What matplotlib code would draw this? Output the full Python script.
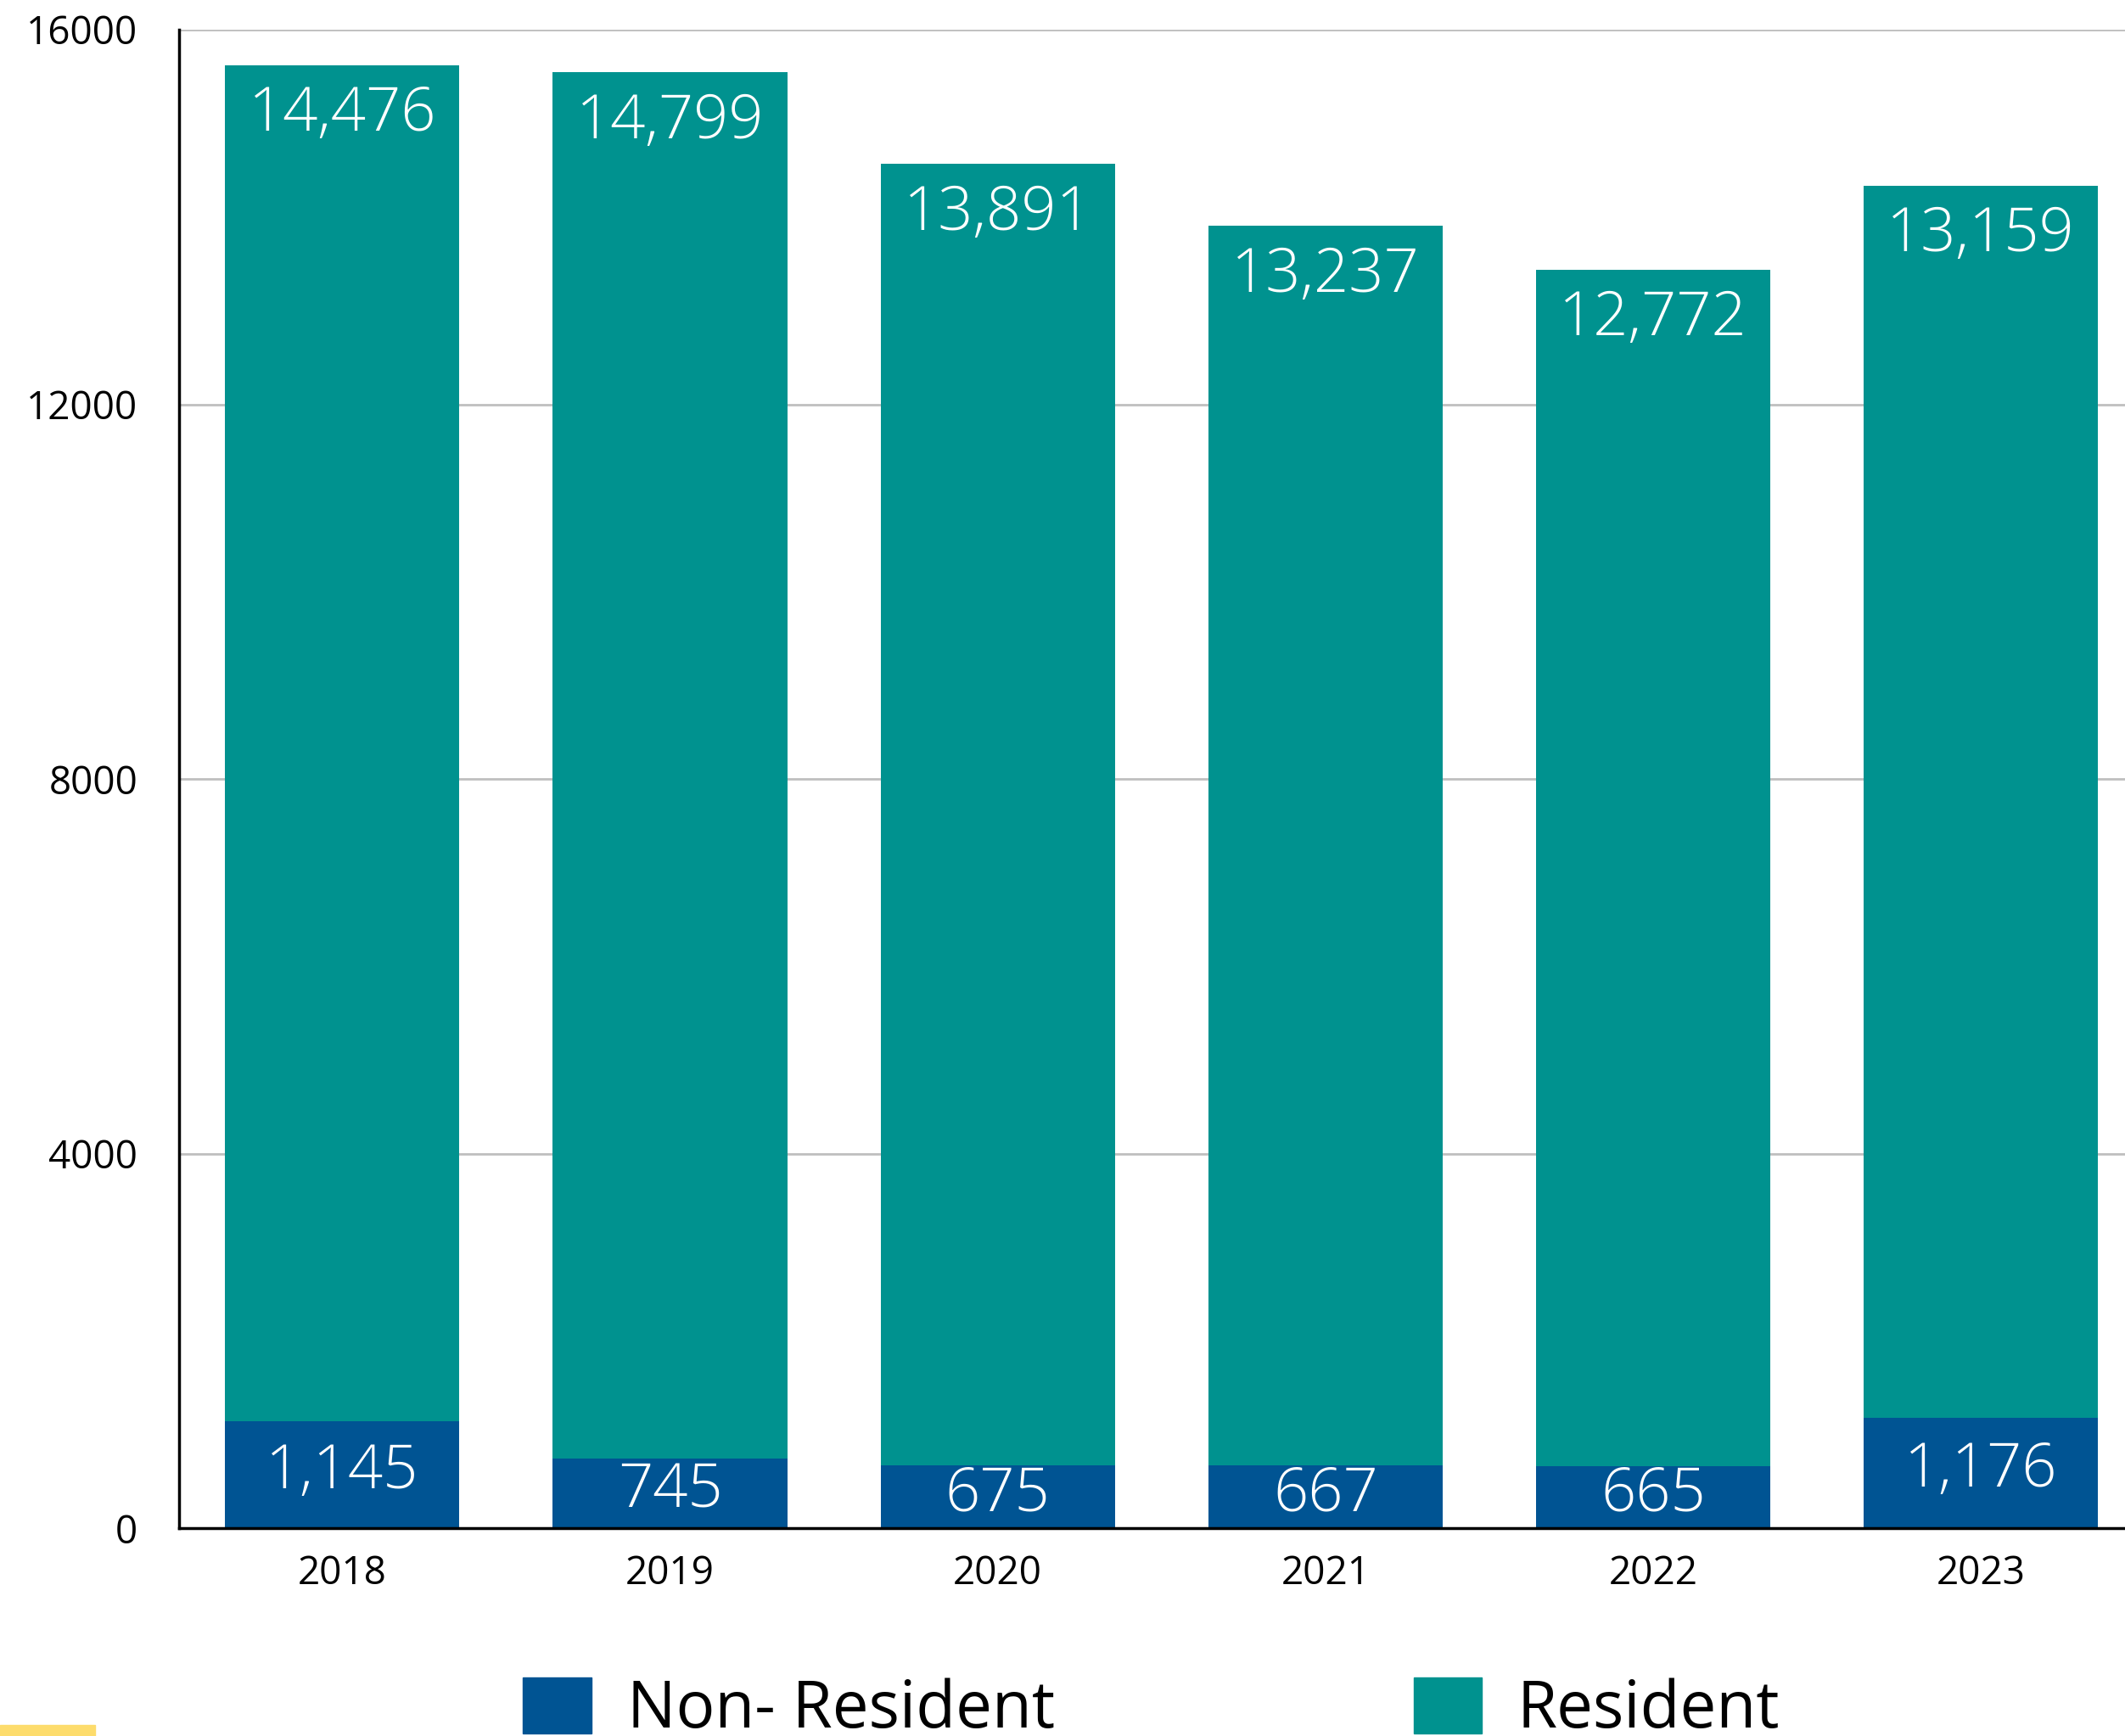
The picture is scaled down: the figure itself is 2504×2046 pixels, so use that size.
import matplotlib
matplotlib.use('Agg')
import matplotlib.pyplot as plt
from matplotlib.patches import Patch, Rectangle
import numpy as np

years = ['2018', '2019', '2020', '2021', '2022', '2023']
non_resident = [1145, 745, 675, 667, 665, 1176]
resident = [14476, 14799, 13891, 13237, 12772, 13159]
yticks = [0, 4000, 8000, 12000, 16000]

blue = '#005493'
teal = '#00928F'

plt.rcParams['font.family'] = ['Open Sans', 'DejaVu Sans']

fig = plt.figure(figsize=(25.04, 20.46), dpi=100)
ax = fig.add_axes([0.0843, 0.1197, 0.9157, 0.8632])

x = np.arange(len(years))
width = 0.715
ax.bar(x, non_resident, width, color=blue, zorder=3)
ax.bar(x, resident, width, bottom=non_resident, color=teal, zorder=3)

for i in range(len(years)):
    ax.annotate(f'{non_resident[i]:,}', (x[i], non_resident[i] / 2), xytext=(0, 2),
                textcoords='offset points', ha='center', va='center',
                color='white', fontsize=52, fontweight='light', zorder=4)
    ax.annotate(f'{resident[i]:,}', (x[i], non_resident[i] + resident[i]), xytext=(0, -42),
                textcoords='offset points', ha='center', va='center',
                color='white', fontsize=52, fontweight='light', zorder=4)

ax.set_ylim(0, 16000)
ax.set_xlim(-0.498, 5.44)
ax.set_yticks(yticks)
ax.set_yticklabels([str(t) for t in yticks])
ax.set_xticks(x)
ax.set_xticklabels(years)
ax.tick_params(axis='y', length=0, pad=35, labelsize=33)
ax.tick_params(axis='x', length=0, pad=22, labelsize=33)
ax.yaxis.grid(True, color='#BFBFBF', linewidth=2, zorder=0)
for s in ['top', 'right']:
    ax.spines[s].set_visible(False)
for s in ['left', 'bottom']:
    ax.spines[s].set_linewidth(2.5)
    ax.spines[s].set_color('black')
ax.spines['left'].set_zorder(5)
ax.spines['bottom'].set_zorder(5)

# legend sits at the very bottom, squares run off the edge like the original
fig.legend(handles=[Patch(color=blue)], labels=['Non- Resident'], loc='upper left',
           bbox_to_anchor=(0.2462, 0.0336), frameon=False, fontsize=55,
           handlelength=1.05, handleheight=0.95, handletextpad=0.55, borderpad=0, borderaxespad=0)
fig.legend(handles=[Patch(color=teal)], labels=['Resident'], loc='upper left',
           bbox_to_anchor=(0.6652, 0.0336), frameon=False, fontsize=55,
           handlelength=1.05, handleheight=0.95, handletextpad=0.55, borderpad=0, borderaxespad=0)

fig.patches.append(Rectangle((0, 0), 0.0447, 0.0064, transform=fig.transFigure,
                             color='#FDDC6C', zorder=1))

fig.savefig('out.png', dpi=100)
